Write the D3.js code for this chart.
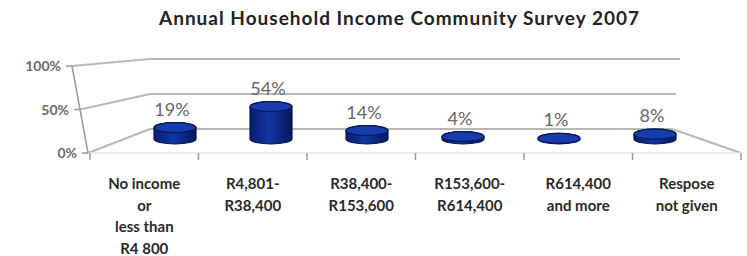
<!doctype html>
<html>
  <head>
    <meta charset="utf-8">
    <title>Annual Household Income Community Survey 2007</title>
    <script src="https://cdnjs.cloudflare.com/ajax/libs/d3/7.8.5/d3.min.js"></script>
    <style>
      body { margin: 0; background: #fff; }
      text { font-family: Lato, "Open Sans", sans-serif; }
    </style>
  </head>
  <body>
    <div id="chart"></div>
    <script>
      // data
      const categories = ['No income', 'R4,801-', 'R38,400-', 'R153,600-', 'R614,400', 'Respose'];
      const categoryLines = [
        ['No income', 'or', 'less than', 'R4 800'],
        ['R4,801-', 'R38,400'],
        ['R38,400-', 'R153,600'],
        ['R153,600-', 'R614,400'],
        ['R614,400', 'and more'],
        ['Respose', 'not given']
      ];
      const values = [19, 54, 14, 4, 1, 8];
      const yTicks = [0, 50, 100];
      const yTickLabels = ['0%', '50%', '100%'];

      const width = 747, height = 256;

      const svg = d3.select('#chart')
        .append('svg')
        .attr('width', width)
        .attr('height', height);

      // scales: front edge, back wall and the bar row in between
      const xFront = d3.scaleBand().domain(categories).range([90, 741]);
      const xBar = d3.scaleBand().domain(categories).range([127, 703]);
      const yFront = d3.scaleLinear().domain([0, 100]).range([153, 66]);
      const xFrontLeft = d3.scaleLinear().domain([0, 100]).range([88, 72]);
      const yBack = d3.scaleLinear().domain([0, 100]).range([129, 59]);
      const xBackRight = d3.scaleLinear().domain([0, 100]).range([672, 680]);
      const hBar = d3.scaleLinear().domain([0, 100]).range([0, 60]);
      const backLeft = 150;
      const grid = '#b8b8b8';

      // title
      svg.append('text')
        .attr('x', 399)
        .attr('y', 25)
        .attr('text-anchor', 'middle')
        .attr('font-size', '19px')
        .attr('font-weight', 'bold')
        .attr('fill', '#222')
        .attr('textLength', 480)
        .attr('lengthAdjust', 'spacing')
        .text('Annual Household Income Community Survey 2007');

      // back wall gridlines + side wall lines
      svg.selectAll('line.back')
        .data(yTicks)
        .join('line')
        .attr('class', 'back')
        .attr('x1', backLeft)
        .attr('x2', d => xBackRight(d))
        .attr('y1', d => yBack(d))
        .attr('y2', d => yBack(d))
        .attr('stroke', grid)
        .attr('stroke-width', 2);

      svg.selectAll('line.side')
        .data(yTicks)
        .join('line')
        .attr('class', 'side')
        .attr('x1', d => xFrontLeft(d))
        .attr('y1', d => yFront(d))
        .attr('x2', backLeft)
        .attr('y2', d => yBack(d))
        .attr('stroke', grid)
        .attr('stroke-width', 2);

      // floor: right edge and front edge
      svg.append('line')
        .attr('x1', xBackRight(0)).attr('y1', yBack(0))
        .attr('x2', xFront.range()[1]).attr('y2', yFront(0))
        .attr('stroke', grid)
        .attr('stroke-width', 2);

      svg.append('line')
        .attr('x1', xFrontLeft(0)).attr('y1', yFront(0))
        .attr('x2', xFront.range()[1]).attr('y2', yFront(0))
        .attr('stroke', '#e4e4e4')
        .attr('stroke-width', 1.5);

      // front vertical axis
      svg.append('line')
        .attr('x1', xFrontLeft(100)).attr('y1', yFront(100))
        .attr('x2', xFrontLeft(0)).attr('y2', yFront(0))
        .attr('stroke', '#999')
        .attr('stroke-width', 1.5);

      svg.selectAll('line.ytick')
        .data(yTicks)
        .join('line')
        .attr('class', 'ytick')
        .attr('x1', d => xFrontLeft(d) - 6)
        .attr('x2', d => xFrontLeft(d))
        .attr('y1', d => yFront(d))
        .attr('y2', d => yFront(d))
        .attr('stroke', '#999')
        .attr('stroke-width', 1.5);

      svg.selectAll('text.ytick')
        .data(yTicks)
        .join('text')
        .attr('class', 'ytick')
        .attr('x', d => xFrontLeft(d) - 11)
        .attr('y', d => yFront(d) + 5)
        .attr('text-anchor', 'end')
        .attr('font-size', '14px')
        .attr('font-weight', 'bold')
        .attr('fill', '#6a6a6a')
        .text((d, i) => yTickLabels[i]);

      // category ticks on the front edge
      const bounds = categories.map(c => xFront(c)).concat([xFront.range()[1]]);
      svg.selectAll('line.xtick')
        .data(bounds)
        .join('line')
        .attr('class', 'xtick')
        .attr('x1', d => d)
        .attr('x2', d => d)
        .attr('y1', yFront(0))
        .attr('y2', yFront(0) + 7)
        .attr('stroke', '#999')
        .attr('stroke-width', 1.5);

      // category labels
      svg.selectAll('text.cat')
        .data(categoryLines)
        .join('text')
        .attr('class', 'cat')
        .attr('text-anchor', 'middle')
        .attr('font-size', '15px')
        .attr('font-weight', 'bold')
        .attr('fill', '#2a2a2a')
        .each(function(lines, i) {
          const cx = xFront(categories[i]) + xFront.bandwidth() / 2;
          d3.select(this).selectAll('tspan')
            .data(lines)
            .join('tspan')
            .attr('x', cx)
            .attr('y', (d, j) => 189 + j * 21.5)
            .text(d => d);
        });

      // cylinders
      const defs = svg.append('defs');
      const grad = defs.append('linearGradient').attr('id', 'cyl');
      grad.append('stop').attr('offset', '0%').attr('stop-color', '#071d6a');
      grad.append('stop').attr('offset', '45%').attr('stop-color', '#1236a3');
      grad.append('stop').attr('offset', '100%').attr('stop-color', '#05185a');

      const rx = 21, ry = 5, floorY = 139;
      const bars = svg.selectAll('g.bar')
        .data(values)
        .join('g')
        .attr('class', 'bar');

      bars.append('path')
        .attr('d', (d, i) => {
          const cx = xBar(categories[i]) + xBar.bandwidth() / 2;
          const top = floorY - hBar(d);
          return `M${cx - rx},${top} L${cx - rx},${floorY} A${rx},${ry} 0 0 0 ${cx + rx},${floorY}` +
                 ` L${cx + rx},${top} A${rx},${ry} 0 0 0 ${cx - rx},${top} Z`;
        })
        .attr('fill', 'url(#cyl)')
        .attr('stroke', '#051858')
        .attr('stroke-width', 1.2);

      bars.append('ellipse')
        .attr('cx', (d, i) => xBar(categories[i]) + xBar.bandwidth() / 2)
        .attr('cy', d => floorY - hBar(d))
        .attr('rx', rx)
        .attr('ry', ry)
        .attr('fill', '#173cae')
        .attr('stroke', '#051858')
        .attr('stroke-width', 1.2);

      // value labels
      svg.selectAll('text.val')
        .data(values)
        .join('text')
        .attr('class', 'val')
        .attr('x', (d, i) => xBar(categories[i]) + xBar.bandwidth() / 2 - 3)
        .attr('y', d => floorY - hBar(d) - ry - 7)
        .attr('text-anchor', 'middle')
        .attr('font-size', '18px')
        .attr('fill', '#666')
        .text(d => d + '%');
    </script>
  </body>
</html>
